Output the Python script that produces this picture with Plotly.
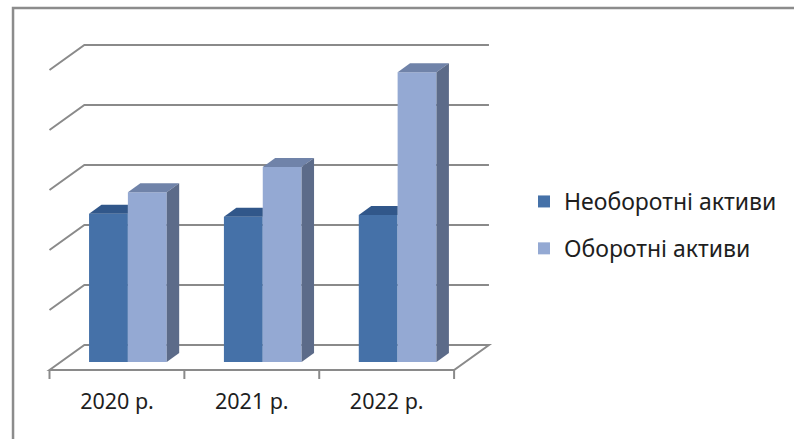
import plotly.graph_objects as go

# ---- data -------------------------------------------------------------
years = ["2020 р.", "2021 р.", "2022 р."]
series_names = ["Необоротні активи", "Оборотні активи"]
non_current = [24.7, 24.2, 24.5]
current = [28.3, 32.5, 48.3]
grid_values = [0, 10, 20, 30, 40, 50]

# ---- figure geometry --------------------------------------------------
W, H = 794, 439
M_L, M_R, M_T, M_B = 20, 273, 20, 53
X_RANGE = [-0.8, 2.9]
Y_RANGE = [-4, 57]
plot_w = W - M_L - M_R
plot_h = H - M_T - M_B
px_x = plot_w / (X_RANGE[1] - X_RANGE[0])   # pixels per category unit
px_y = plot_h / (Y_RANGE[1] - Y_RANGE[0])   # pixels per value unit


def depth(dx_px, dy_px):
    """Screen offset (pixels, y up) expressed in axis units."""
    return dx_px / px_x, dy_px / px_y


BAR_W = 0.288                      # width of one column, category units
bar_dx, bar_dy = depth(12.5, 9)    # depth of a column
wall_dx, wall_dy = depth(24, 17)   # back wall relative to column fronts
front_dx, front_dy = depth(-11, -8)  # front edge of the floor
tick_dy = 9 / px_y

C_DARK = "#4571a8"
C_DARK_TOP = "#31578a"
C_LIGHT = "#94a9d3"
C_LIGHT_TOP = "#7083a9"
C_LIGHT_SIDE = "#5c6b89"
GRID = "#8a8a8a"
FONT = "Noto Sans"

fig = go.Figure()

# front faces of the columns
x_idx = list(range(len(years)))
fig.add_trace(go.Bar(x=x_idx, y=non_current, name=series_names[0],
                     width=BAR_W, offset=-BAR_W, marker_color=C_DARK,
                     marker_line_width=0, legendgroup="a"))
fig.add_trace(go.Bar(x=x_idx, y=current, name=series_names[1],
                     width=BAR_W, offset=0, marker_color=C_LIGHT,
                     marker_line_width=0, legendgroup="b"))


def poly(xs, ys, color):
    fig.add_trace(go.Scatter(x=xs + [xs[0]], y=ys + [ys[0]], mode="lines",
                             fill="toself", fillcolor=color,
                             line=dict(width=0, color=color),
                             hoverinfo="skip", showlegend=False))


for i in x_idx:
    d, c = non_current[i], current[i]
    x0, x1, x2 = i - BAR_W, i, i + BAR_W
    # top of the left column; the right column hides the part past x1
    if c >= d + bar_dy:
        poly([x0, x1, x1, x0 + bar_dx], [d, d, d + bar_dy, d + bar_dy], C_DARK_TOP)
    else:
        poly([x0, x1, x1 + bar_dx, x0 + bar_dx], [d, d, d + bar_dy, d + bar_dy], C_DARK_TOP)
    # top and right side of the right column
    poly([x1, x2, x2 + bar_dx, x1 + bar_dx], [c, c, c + bar_dy, c + bar_dy], C_LIGHT_TOP)
    poly([x2, x2 + bar_dx, x2 + bar_dx, x2], [0, bar_dy, c + bar_dy, c], C_LIGHT_SIDE)

# back wall gridlines with their slanted left ends
left, right = -0.5, len(years) - 0.5
shapes = []
line = dict(color=GRID, width=2)
for v in grid_values:
    path = (f"M {left + front_dx},{v + front_dy} "
            f"L {left + wall_dx},{v + wall_dy} L {right + wall_dx},{v + wall_dy}")
    if v == grid_values[0]:
        path += (f" L {right + front_dx},{v + front_dy} Z")
    shapes.append(dict(type="path", path=path, xref="x", yref="y",
                       line=line, layer="below"))
# category tick marks on the front edge of the floor
for k in range(len(years) + 1):
    xk = left + front_dx + k
    shapes.append(dict(type="line", x0=xk, x1=xk, y0=front_dy,
                       y1=front_dy - tick_dy, xref="x", yref="y",
                       line=line, layer="below"))


# outer chart frame (top and left edges)
def px2paper(px, py):
    return (px - M_L) / plot_w, 1 - (py - M_T) / plot_h


fx0, fy0 = px2paper(13, H + 5)
fx1, fy1 = px2paper(13, 8)
fx2, _ = px2paper(W + 5, 8)
shapes.append(dict(type="path", xref="paper", yref="paper",
                   path=f"M {fx0},{fy0} L {fx1},{fy1} L {fx2},{fy1}",
                   line=dict(color="#8c8c8c", width=2.5)))

lx, ly = px2paper(526, 225)
fig.update_layout(
    width=W, height=H,
    margin=dict(l=M_L, r=M_R, t=M_T, b=M_B),
    paper_bgcolor="white", plot_bgcolor="white",
    barmode="overlay",
    shapes=shapes,
    font=dict(family=FONT, size=22, color="#1e1e1e"),
    xaxis=dict(range=X_RANGE, showgrid=False, zeroline=False, showline=False,
               tickmode="array",
               tickvals=[i + front_dx for i in x_idx], ticktext=years,
               ticks="", tickfont=dict(size=21.5)),
    yaxis=dict(range=Y_RANGE, showgrid=False, zeroline=False, showline=False,
               showticklabels=False, ticks=""),
    legend=dict(x=lx, y=ly, xanchor="left", yanchor="middle",
                traceorder="grouped", tracegroupgap=14,
                font=dict(size=23), bgcolor="rgba(0,0,0,0)"),
    showlegend=True,
)

fig.write_html("out.html")
